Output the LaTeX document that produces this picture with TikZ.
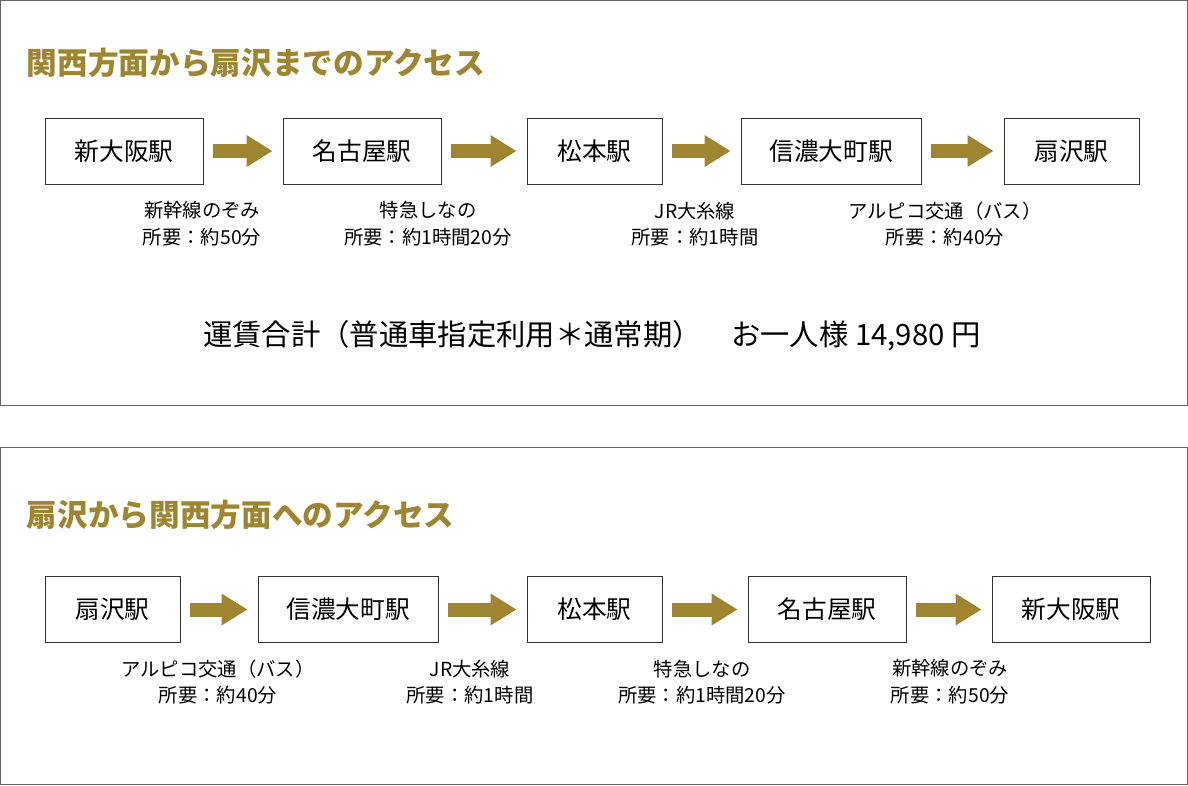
\documentclass[tikz,border=0pt]{standalone}
\usepackage{fontspec}
\setmainfont{Noto Sans CJK JP}
\usetikzlibrary{arrows.meta}
\definecolor{accessgold}{RGB}{160,133,48}
\tikzset{
station/.style={draw=black!80, line width=0.6pt, fill=white, minimum height=49.5pt, inner sep=0pt, font=\fontsize{18.5}{22}\selectfont},
route/.style={accessgold, line width=10.5pt, shorten <=7.5pt, shorten >=7.5pt, -{Triangle[length=19.5pt, width=22.5pt]}},
note/.style={align=center, font=\fontsize{14.5}{20}\selectfont},
heading/.style={anchor=west, text=accessgold, font=\bfseries\fontsize{23}{26}\selectfont},
panel/.style={draw=black!60, line width=0.6pt},
}
\begin{document}
\begin{tikzpicture}[x=0.75pt, y=-0.75pt]
\useasboundingbox (0,0) rectangle (1188,785);
\draw[panel] (0.5,0.5) rectangle (1187,405);
\draw[panel] (0.5,447) rectangle (1187,784);

% 関西方面 -> 扇沢
\node[heading] (t1) at (22,63) {関西方面から扇沢までのアクセス};
\node[station, minimum width=118.5pt] (osaka1) at (124,151) {新大阪駅};
\node[station, minimum width=118.5pt] (nagoya1) at (362,151) {名古屋駅};
\node[station, minimum width=101.25pt] (matsu1) at (594.5,151) {松本駅};
\node[station, minimum width=135pt] (shinano1) at (831,151) {信濃大町駅};
\node[station, minimum width=101.25pt] (ogi1) at (1071.5,151) {扇沢駅};
\draw[route] (osaka1) -- (nagoya1);
\draw[route] (nagoya1) -- (matsu1);
\draw[route] (matsu1) -- (shinano1);
\draw[route] (shinano1) -- (ogi1);
\node[note] (n11) at (202,224) {新幹線のぞみ\\所要：約50分};
\node[note] (n12) at (428,224) {特急しなの\\所要：約1時間20分};
\node[note] (n13) at (695,224) {JR大糸線\\所要：約1時間};
\node[note] (n14) at (945,224) {アルピコ交通（バス）\\所要：約40分};
\node[font=\fontsize{22}{26}\selectfont] (fare) at (592,336) {運賃合計（普通車指定利用＊通常期）　お一人様 14,980 円};

% 扇沢 -> 関西方面
\node[heading] (t2) at (22,515) {扇沢から関西方面へのアクセス};
\node[station, minimum width=101.25pt] (ogi2) at (112.5,609.5) {扇沢駅};
\node[station, minimum width=135pt] (shinano2) at (348,609.5) {信濃大町駅};
\node[station, minimum width=101.25pt] (matsu2) at (594.5,609.5) {松本駅};
\node[station, minimum width=118.5pt] (nagoya2) at (827,609.5) {名古屋駅};
\node[station, minimum width=118.5pt] (osaka2) at (1071,609.5) {新大阪駅};
\draw[route] (ogi2) -- (shinano2);
\draw[route] (shinano2) -- (matsu2);
\draw[route] (matsu2) -- (nagoya2);
\draw[route] (nagoya2) -- (osaka2);
\node[note] (n21) at (218,682) {アルピコ交通（バス）\\所要：約40分};
\node[note] (n22) at (470,682) {JR大糸線\\所要：約1時間};
\node[note] (n23) at (702,682) {特急しなの\\所要：約1時間20分};
\node[note] (n24) at (950,682) {新幹線のぞみ\\所要：約50分};
\end{tikzpicture}
\end{document}
